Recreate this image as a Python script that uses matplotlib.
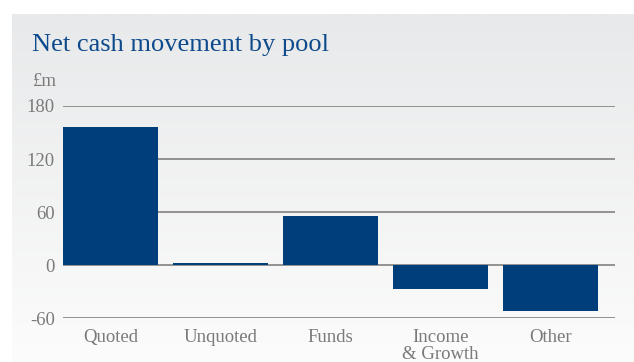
import numpy as np
import matplotlib
matplotlib.use("Agg")
import matplotlib.pyplot as plt
from matplotlib.colors import LinearSegmentedColormap

categories = ["Quoted", "Unquoted", "Funds", "Income\n& Growth", "Other"]
values = [156, 2, 56, -27, -52]
yticks = [-60, 0, 60, 120, 180]

W, H = 634, 362
fig = plt.figure(figsize=(W / 100, H / 100), dpi=100)
fig.patch.set_facecolor("white")

# background panel with vertical gradient
bg = fig.add_axes([12 / W, 0, 1 - 12 / W, (H - 14) / H], zorder=-10)
cmap = LinearSegmentedColormap.from_list("bg", ["#e8e9ea", "#fcfcfc"])
grad = np.linspace(0, 1, 256).reshape(-1, 1)
bg.imshow(grad, aspect="auto", cmap=cmap, extent=[0, 1, 0, 1], origin="upper")
bg.set_axis_off()

serif = ["Liberation Serif", "DejaVu Serif"]
gray = "#7a7a7a"

ax = fig.add_axes([63 / W, (H - 318.3) / H, (615 - 63) / W, (318.3 - 106) / H])
ax.set_facecolor("none")
x = np.arange(len(categories))
ax.bar(x, values, width=0.86, color="#003d7b", zorder=3)
ax.set_xlim(-0.432, 4.586)
ax.set_ylim(-60, 180)
ax.set_yticks(yticks)
ax.set_yticklabels([str(v) for v in yticks], family=serif, fontsize=13.5, color=gray)
ax.set_xticks(x)
ax.set_xticklabels(categories, family=serif, fontsize=13.5, color=gray, linespacing=0.95, va="top")
ax.tick_params(axis="both", length=0)
ax.tick_params(axis="y", pad=6)
ax.tick_params(axis="x", pad=8)
for v in yticks:
    ax.axhline(v, color="#8a8a8a", lw=1.3, zorder=1)
for s in ax.spines.values():
    s.set_visible(False)

fig.text(32 / W, 1 - 45 / H, "Net cash movement by pool", family=serif, fontsize=19,
         color="#0d4a8c", va="center", ha="left")
fig.text(57 / W, 1 - 81 / H, "£m", family=serif, fontsize=13.5, color=gray, va="center", ha="right")

fig.savefig("out.png", dpi=100)
